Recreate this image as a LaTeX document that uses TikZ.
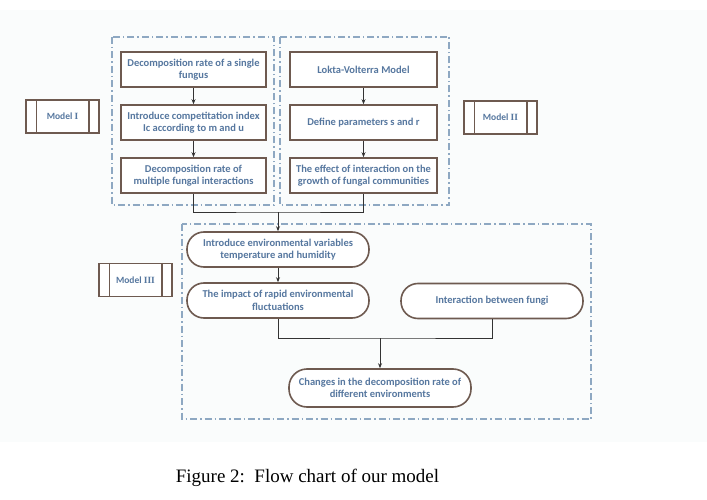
\documentclass[tikz,border=0pt]{standalone}
\usepackage{fontspec}
\setmainfont{Liberation Serif}
\newfontfamily\boxfont{Carlito}
\usepackage{tikz}
\usetikzlibrary{calc,arrows.meta}
\definecolor{BoxEdge}{HTML}{6E5A50}
\definecolor{BoxText}{HTML}{56779F}
\definecolor{GroupEdge}{HTML}{8EA8C2}
\definecolor{PaperTint}{HTML}{FAFCFC}
\newcommand\modeltag[4]{% name, centre, label, bar offset
  \node[tagbox] at #2 (#1) {#3};
  \draw[color=BoxEdge,line width=1.5pt] ($(#1.north west)+(#4,0)$) -- ($(#1.south west)+(#4,0)$);
  \draw[color=BoxEdge,line width=1.5pt] ($(#1.north east)-(#4,0)$) -- ($(#1.south east)-(#4,0)$);
}

\begin{document}
\begin{tikzpicture}[x=1pt,y=-1pt]
		\tikzstyle{every node}=[font=\boxfont\bfseries\fontsize{10.5}{12.5}\selectfont,text=BoxText]
		\tikzstyle{stepbox}=[draw=BoxEdge,line width=1.6pt,fill=white,minimum width=145pt,minimum height=35pt,
				      align=center,inner sep=1pt]
		\tikzstyle{roundbox}=[draw=BoxEdge,line width=1.6pt,fill=white,rounded corners=17pt,minimum width=182pt,
				      minimum height=35pt,align=center,inner sep=1pt]
		\tikzstyle{tagbox}=[draw=BoxEdge,line width=1.5pt,fill=white,minimum width=73pt,minimum height=33pt,
				      font=\boxfont\bfseries\fontsize{9.5}{11}\selectfont]
		\tikzstyle{group}=[draw=GroupEdge,line width=1.3pt,dash pattern=on 7pt off 3pt on 1.5pt off 3pt]
		\tikzstyle{link}=[draw=black!80,line width=0.9pt]
		\tikzstyle{linkto}=[link,-{Stealth[length=5pt,width=4pt]}]

\useasboundingbox (0,0) rectangle (707,500);
\fill[PaperTint] (0,10) rectangle (707,442);

% model groups
\draw[group] (112,37) rectangle (274,205);
\draw[group] (280,37) rectangle (449,205);
\draw[group] (182,224) rectangle (591,419);

% Model I
\node[stepbox] at (193.5,69.5) (single) {Decomposition rate of a single\\fungus};
\node[stepbox] at (193.5,122.5) (index) {Introduce competitation index\\Ic according to m and u};
\node[stepbox] at (193.5,175.5) (multiple) {Decomposition rate of\\multiple fungal interactions};

% Model II
\node[stepbox,minimum width=147pt] at (363.5,69.5) (lotka) {Lokta-Volterra Model};
\node[stepbox,minimum width=147pt] at (363.5,122.5) (params) {Define parameters s and r};
\node[stepbox,minimum width=147pt,inner sep=0pt] at (363.5,175.5) (effect) {The effect of interaction on the\\growth of fungal communities};

% Model III
\node[roundbox] at (278,249.5) (envvar) {Introduce environmental variables\\temperature and humidity};
\node[roundbox] at (278,300.5) (rapid) {The impact of rapid environmental\\fluctuations};
\node[roundbox] at (492,301) (inter) {Interaction between fungi};
\node[roundbox,minimum height=38pt,rounded corners=18pt] at (380,388) (changes) {Changes in the decomposition rate of\\different environments};

\modeltag{tag1}{(62.5,116.5)}{Model {\rmfamily I}}{11pt}
\modeltag{tag2}{(500.5,117.5)}{Model {\rmfamily II}}{11pt}
\modeltag{tag3}{(135.5,280)}{Model {\rmfamily III}}{11pt}

\foreach \a/\b in {single/index,index/multiple,lotka/params,params/effect,envvar/rapid}
{
  \draw[linkto] (\a) -- (\b);
}

\coordinate (join1) at (278,212);
\coordinate (join2) at (380,338);
\draw[link] (multiple.south) |- (join1) -| (effect.south);
\draw[linkto] (join1) -- (envvar.north);
\draw[link] (rapid.south) |- (join2) -| (inter.south);
\draw[linkto] (join2) -- (changes.north);

\node[font=\rmfamily\fontsize{19}{22}\selectfont,text=black] at (307.5,478) (caption) {Figure 2:\, Flow chart of our model};

\end{tikzpicture}
\end{document}
